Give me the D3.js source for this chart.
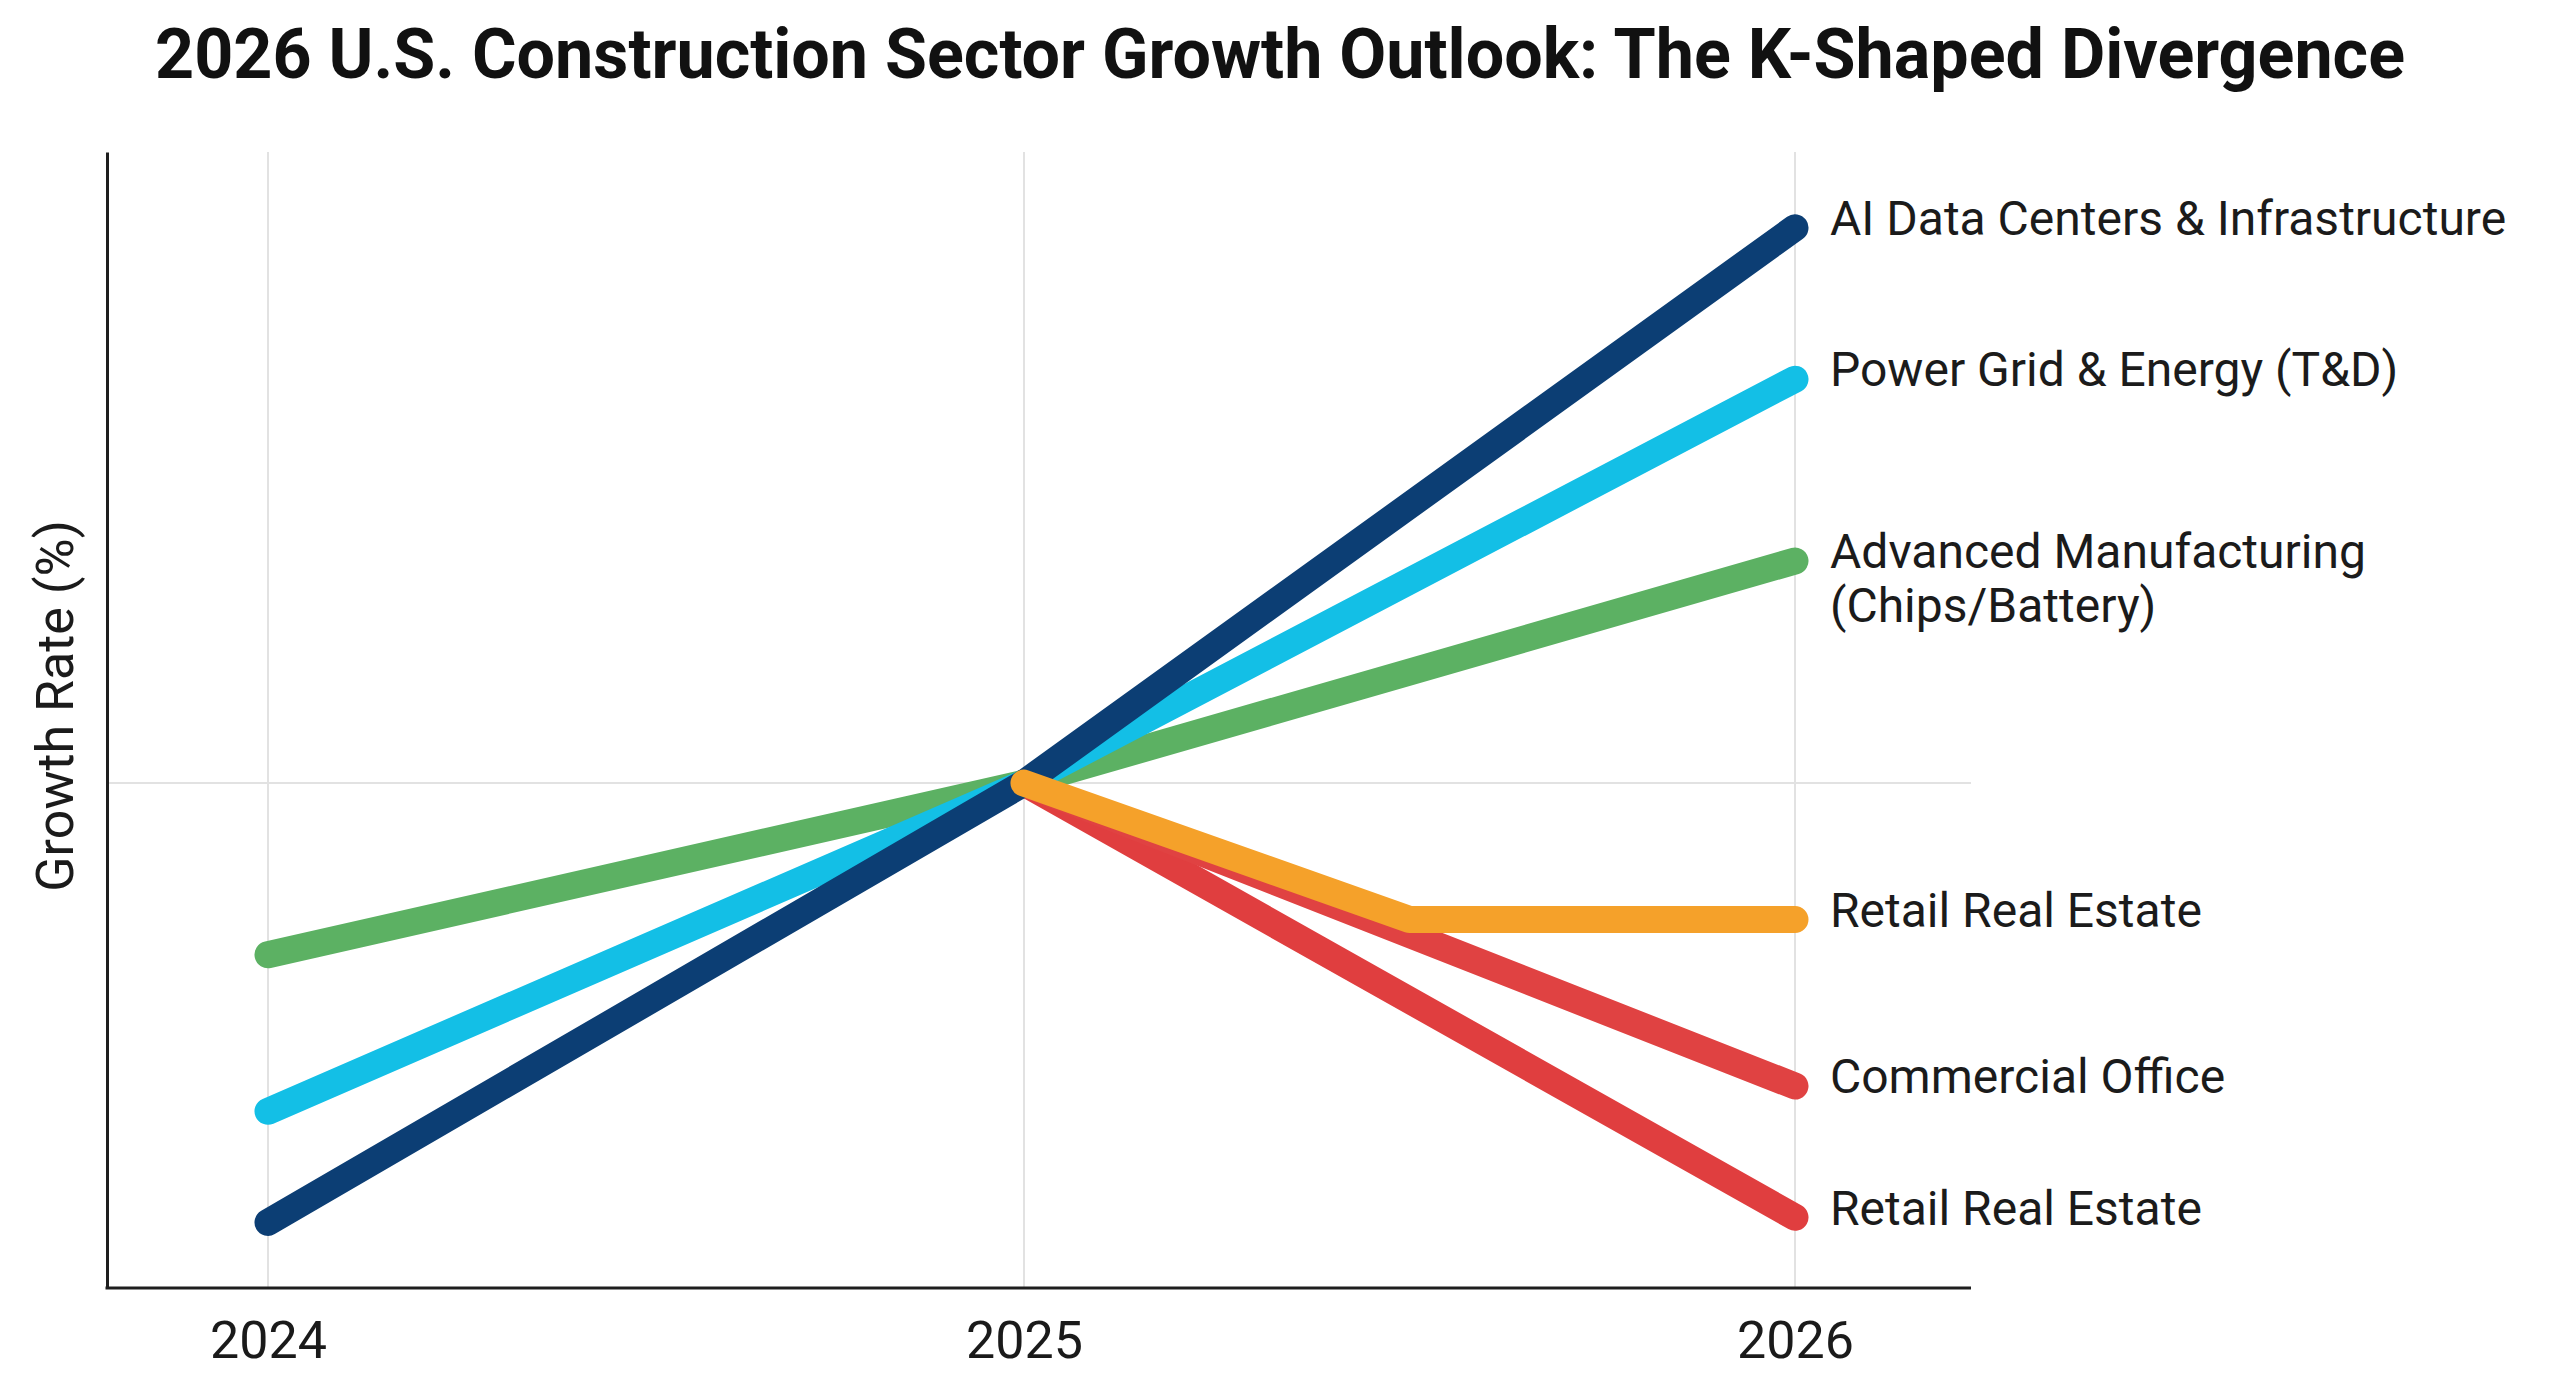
<!DOCTYPE html>
<html>
<head>
<meta charset="utf-8">
<script src="https://cdn.jsdelivr.net/npm/d3@7"></script>
<style>
  html, body { margin: 0; padding: 0; background: #ffffff; }
  svg { display: block; }
</style>
</head>
<body>
<svg id="chart" width="2560" height="1396"></svg>
<script>
// ---------------- DATA ----------------
const chartTitle = "2026 U.S. Construction Sector Growth Outlook: The K-Shaped Divergence";
const yAxisTitle = "Growth Rate (%)";
const tickYears = [2024, 2025, 2026];

const seriesNames = [
  "Retail Real Estate",
  "Commercial Office",
  "Advanced Manufacturing\n(Chips/Battery)",
  "Power Grid & Energy (T&D)",
  "AI Data Centers & Infrastructure",
  "Retail Real Estate"
];
const seriesColors = ["#e03e3f", "#e04242", "#5cb163", "#13bfe6", "#0c3e74", "#f5a12a"];

const retailRedYears   = [2025, 2026];
const retailRedValues  = [0, -8.6];
const officeYears      = [2025, 2026];
const officeValues     = [0, -6.0];
const mfgYears         = [2024, 2025, 2026];
const mfgValues        = [-3.4, 0, 4.4];
const powerYears       = [2024, 2025, 2026];
const powerValues      = [-6.5, 0, 8.0];
const aiYears          = [2024, 2025, 2026];
const aiValues         = [-8.7, 0, 11.0];
const retailOrgYears   = [2025, 2025.5, 2026];
const retailOrgValues  = [0, -2.7, -2.7];

const yDomain = [-10, 12.5];

// ---------------- BUILD ----------------
const seriesYears  = [retailRedYears, officeYears, mfgYears, powerYears, aiYears, retailOrgYears];
const seriesValues = [retailRedValues, officeValues, mfgValues, powerValues, aiValues, retailOrgValues];
const series = seriesNames.map((name, i) => ({
  name,
  color: seriesColors[i],
  points: seriesYears[i].map((yr, j) => ({ year: yr, value: seriesValues[i][j] }))
}));

const svg = d3.select("#chart");
const frame = { left: 107, right: 1971, top: 152, bottom: 1288 };

const x = d3.scaleLinear().domain(tickYears).range([268, 1024, 1795]);
const y = d3.scaleLinear().domain(yDomain).range([frame.bottom, frame.top]);

// gridlines
const grid = svg.append("g");
grid.selectAll("line.v").data(tickYears).join("line")
  .attr("x1", d => x(d)).attr("x2", d => x(d))
  .attr("y1", frame.top).attr("y2", frame.bottom)
  .attr("stroke", "#e2e2e2").attr("stroke-width", 2);
grid.append("line")
  .attr("x1", frame.left).attr("x2", frame.right)
  .attr("y1", y(0)).attr("y2", y(0))
  .attr("stroke", "#e2e2e2").attr("stroke-width", 2);

// axes
const yAxis = svg.append("g")
  .attr("transform", `translate(${frame.left},0)`)
  .call(d3.axisLeft(y).ticks(0).tickSizeOuter(0));
yAxis.select(".domain").attr("stroke", "#1e1e1e").attr("stroke-width", 3);

svg.append("line")
  .attr("x1", frame.left - 1.5).attr("x2", frame.right)
  .attr("y1", frame.bottom).attr("y2", frame.bottom)
  .attr("stroke", "#1e1e1e").attr("stroke-width", 3);

const xAxis = svg.append("g")
  .attr("transform", `translate(0,${frame.bottom})`)
  .call(d3.axisBottom(x).tickValues(tickYears).tickFormat(d3.format("d")).tickSize(0).tickPadding(33));
xAxis.select(".domain").remove();
xAxis.selectAll("text")
  .attr("font-family", "Roboto, sans-serif")
  .attr("font-size", 52)
  .attr("fill", "#1a1a1a");

// lines
const line = d3.line().x(d => x(d.year)).y(d => y(d.value));
svg.append("g").selectAll("path").data(series).join("path")
  .attr("d", d => line(d.points))
  .attr("fill", "none")
  .attr("stroke", d => d.color)
  .attr("stroke-width", 27)
  .attr("stroke-linecap", "round")
  .attr("stroke-linejoin", "round");

// end labels
const labels = svg.append("g")
  .attr("font-family", "Roboto, sans-serif")
  .attr("font-size", 48)
  .attr("fill", "#1b1b1b");
series.forEach(s => {
  const last = s.points[s.points.length - 1];
  const t = labels.append("text")
    .attr("x", x(last.year) + 35)
    .attr("y", y(last.value) - 10);
  s.name.split("\n").forEach((ln, k) => {
    t.append("tspan").attr("x", x(last.year) + 35).attr("dy", k === 0 ? "0.36em" : "1.13em").text(ln);
  });
});

// titles
svg.append("text")
  .attr("x", 1280).attr("y", 78)
  .attr("text-anchor", "middle")
  .attr("font-family", "Roboto, sans-serif")
  .attr("font-weight", 700)
  .attr("font-size", 70)
  .attr("fill", "#111")
  .attr("textLength", 2250)
  .attr("lengthAdjust", "spacingAndGlyphs")
  .text(chartTitle);

svg.append("text")
  .attr("transform", `translate(73,${(frame.top + frame.bottom) / 2 - 14}) rotate(-90)`)
  .attr("text-anchor", "middle")
  .attr("font-family", "Roboto, sans-serif")
  .attr("font-size", 52)
  .attr("fill", "#1b1b1b")
  .text(yAxisTitle);
</script>
</body>
</html>
